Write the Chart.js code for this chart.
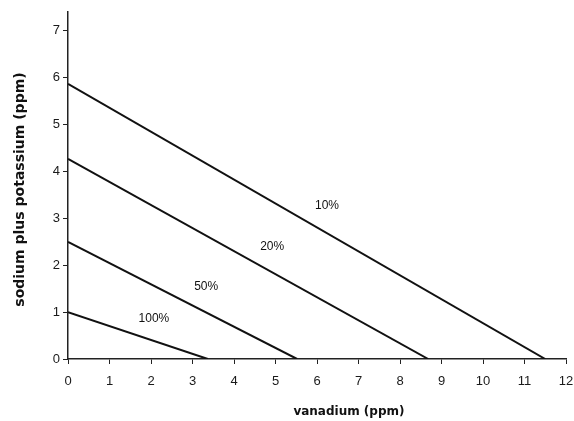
<!DOCTYPE html>
<html>
<head>
<meta charset="utf-8">
<script src="https://cdn.jsdelivr.net/npm/chart.js@4/dist/chart.umd.min.js"></script>
<style>
  html, body { margin: 0; padding: 0; background: #fff; }
  #wrap { width: 574px; height: 421px; }
</style>
</head>
<body>
<div id="wrap"><canvas id="c" width="574" height="421"></canvas></div>
<script>
// Data
const curveLabels = ['10%', '20%', '50%', '100%'];
const yIntercepts = [5.87, 4.27, 2.5, 1.0];      // sodium + potassium at vanadium = 0
const xIntercepts = [11.5, 8.68, 5.52, 3.37];    // vanadium at sodium + potassium = 0
const labelX = [6.24, 4.92, 3.33, 2.07];
const labelY = [3.28, 2.40, 1.55, 0.85];
const xTicks = [0,1,2,3,4,5,6,7,8,9,10,11,12];
const yTicks = [0,1,2,3,4,5,6,7];
const xTitle = 'vanadium (ppm)';
const yTitle = 'sodium plus potassium (ppm)';

const datasets = curveLabels.map((lab, i) => ({
  label: lab,
  data: [{x: 0, y: yIntercepts[i]}, {x: xIntercepts[i], y: 0}],
  showLine: true,
  borderColor: '#111',
  borderWidth: 2,
  pointRadius: 0,
  fill: false
}));

const annotatePlugin = {
  id: 'annotate',
  afterDatasetsDraw(chart) {
    const {ctx, scales: {x, y}, chartArea} = chart;
    ctx.save();
    ctx.fillStyle = '#111';
    ctx.font = '12px "Liberation Sans", Arial, sans-serif';
    ctx.textAlign = 'center';
    ctx.textBaseline = 'middle';
    curveLabels.forEach((lab, i) => {
      ctx.fillText(lab, x.getPixelForValue(labelX[i]), y.getPixelForValue(labelY[i]));
    });
    // axis titles
    ctx.font = 'bold 12px "DejaVu Sans", sans-serif';
    ctx.fillText(xTitle, x.getPixelForValue(6.77), 412);
    ctx.translate(20, (chartArea.top + chartArea.bottom) / 2 + 4);
    ctx.rotate(-Math.PI / 2);
    ctx.font = 'bold 14px "DejaVu Sans", sans-serif';
    ctx.fillText(yTitle, 0, 0);
    ctx.restore();
  }
};

new Chart(document.getElementById('c'), {
  type: 'scatter',
  data: { datasets },
  plugins: [annotatePlugin],
  options: {
    responsive: false,
    animation: false,
    layout: { padding: { top: 12, right: 8, left: 0, bottom: 0 } },
    plugins: { legend: { display: false }, tooltip: { enabled: false } },
    scales: {
      x: {
        type: 'linear',
        min: 0, max: 12,
        afterFit(s) { s.height = 62; s.paddingLeft = 0; s.paddingRight = 0; },
        afterBuildTicks(s) { s.ticks = xTicks.map(v => ({value: v})); },
        border: { display: true, color: '#222', width: 1.5 },
        grid: { display: true, drawOnChartArea: false, drawTicks: true, tickLength: 5, color: '#222', lineWidth: 1 },
        ticks: { padding: 10, color: '#1a1a1a', font: { family: '"Liberation Sans", Arial, sans-serif', size: 13 }, maxRotation: 0 }
      },
      y: {
        type: 'linear',
        min: 0, max: 7.4,
        afterFit(s) { s.width = 68; s.paddingTop = 0; s.paddingBottom = 0; },
        afterBuildTicks(s) { s.ticks = yTicks.map(v => ({value: v})); },
        border: { display: true, color: '#222', width: 1.5 },
        grid: { display: true, drawOnChartArea: false, drawTicks: true, tickLength: 5, color: '#222', lineWidth: 1 },
        ticks: { padding: 3, color: '#1a1a1a', font: { family: '"Liberation Sans", Arial, sans-serif', size: 13 } }
      }
    }
  }
});
</script>
</body>
</html>
